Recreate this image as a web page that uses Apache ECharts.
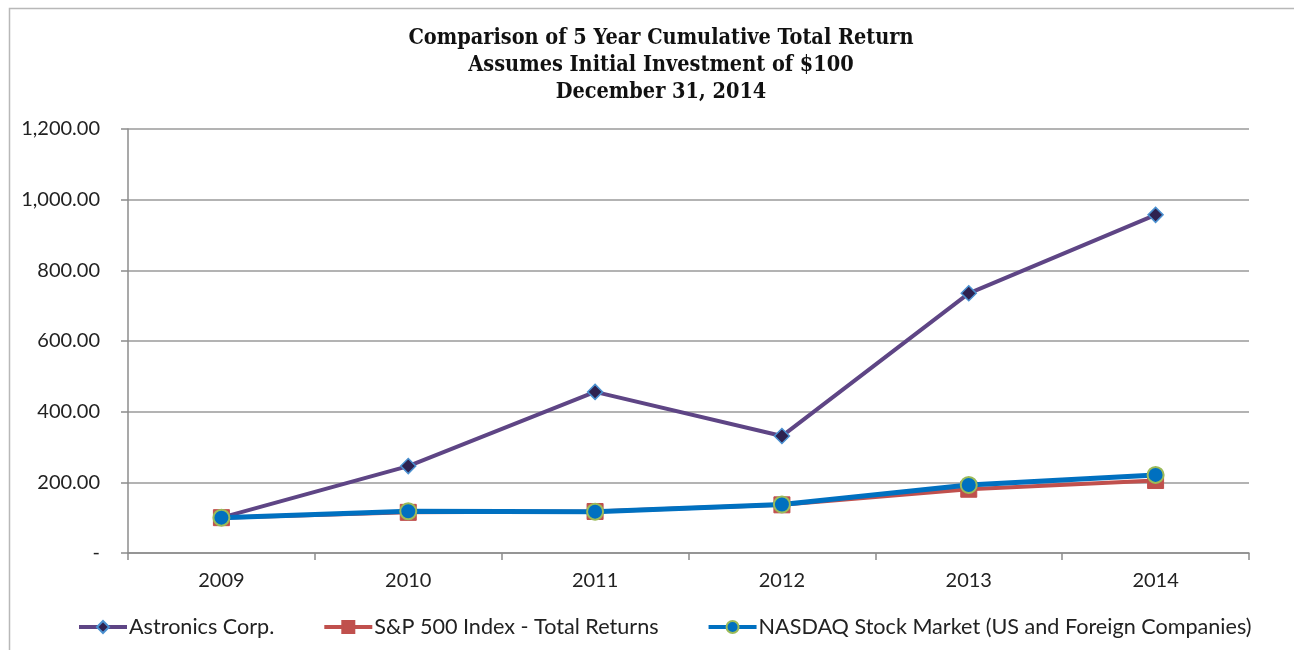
<!DOCTYPE html>
<html><head><meta charset="utf-8">
<script src="https://cdn.jsdelivr.net/npm/echarts@6/dist/echarts.min.js"></script>
<style>html,body{margin:0;padding:0;background:#fff}#c{width:1294px;height:650px}</style>
</head><body><div id="c"></div>
<script>
const years = ['2009','2010','2011','2012','2013','2014'];
const astronics = [100, 246, 456, 331, 735, 957];
const sp500 = [100, 115.06, 117.49, 136.30, 180.44, 205.14];
const nasdaq = [100, 118.02, 117.04, 137.47, 192.62, 221.02];
const titleLines = ['Comparison of 5 Year Cumulative Total Return','Assumes Initial Investment of $100','December 31, 2014'];
const seriesNames = ['Astronics Corp.','S&P 500 Index - Total Returns','NASDAQ Stock Market (US and Foreign Companies)'];

const chart = echarts.init(document.getElementById('c'));
const lblFont = 'Lato, "Open Sans", sans-serif';
chart.setOption({
  animation:false,
  backgroundColor:'#fff',
  graphic:[{type:'rect',shape:{x:9.5,y:8.5,width:1300,height:660},style:{fill:'none',stroke:'#b8b8b8',lineWidth:1.5},silent:true}],
  title:{text:titleLines.join('\n'),left:656,top:20,textAlign:'center',
    textStyle:{fontFamily:'"DejaVu Serif Condensed","Liberation Serif",serif',fontWeight:'bold',fontSize:21.5,lineHeight:27,color:'#111'}},
  grid:{left:128,right:45,top:129,bottom:97,containLabel:false},
  legend:{bottom:7,left:72,itemGap:48,itemWidth:48,itemHeight:15,
    lineStyle:{width:4},
    textStyle:{fontFamily:lblFont,fontSize:21.6,color:'#222',padding:[0,0,0,-3]},
    data:seriesNames},
  xAxis:{type:'category',data:years,boundaryGap:true,
    axisLine:{lineStyle:{color:'#8c8c8c',width:1.5}},
    axisTick:{show:true,length:7,lineStyle:{color:'#8c8c8c',width:1.5}},
    axisLabel:{fontFamily:lblFont,fontSize:20,color:'#222',margin:18}},
  yAxis:{type:'value',min:0,max:1200,interval:200,
    axisLine:{show:true,lineStyle:{color:'#8c8c8c',width:1.5}},
    axisTick:{show:true,length:7,lineStyle:{color:'#8c8c8c',width:1.5}},
    splitLine:{lineStyle:{color:'#9a9a9a',width:1.5}},
    axisLabel:{fontFamily:lblFont,fontSize:20,color:'#222',margin:28,
      formatter:v=> v===0 ? '-' : v.toLocaleString('en-US',{minimumFractionDigits:2,maximumFractionDigits:2})}},
  series:[
    {name:seriesNames[0],type:'line',data:astronics,symbol:'diamond',symbolSize:15,
      lineStyle:{color:'#5e4585',width:4},
      itemStyle:{color:'#2e2250',borderColor:'#4a90d0',borderWidth:1.5},z:3},
    {name:seriesNames[1],type:'line',data:sp500,symbol:'rect',symbolSize:16,
      lineStyle:{color:'#c0504d',width:4},
      itemStyle:{color:'#c0504d',borderColor:'#c0504d',borderWidth:1},z:4},
    {name:seriesNames[2],type:'line',data:nasdaq,symbol:'circle',symbolSize:16,
      lineStyle:{color:'#0070c0',width:5},
      itemStyle:{color:'#0070c0',borderColor:'#9bbb59',borderWidth:2},z:5}
  ]
});
</script></body></html>
